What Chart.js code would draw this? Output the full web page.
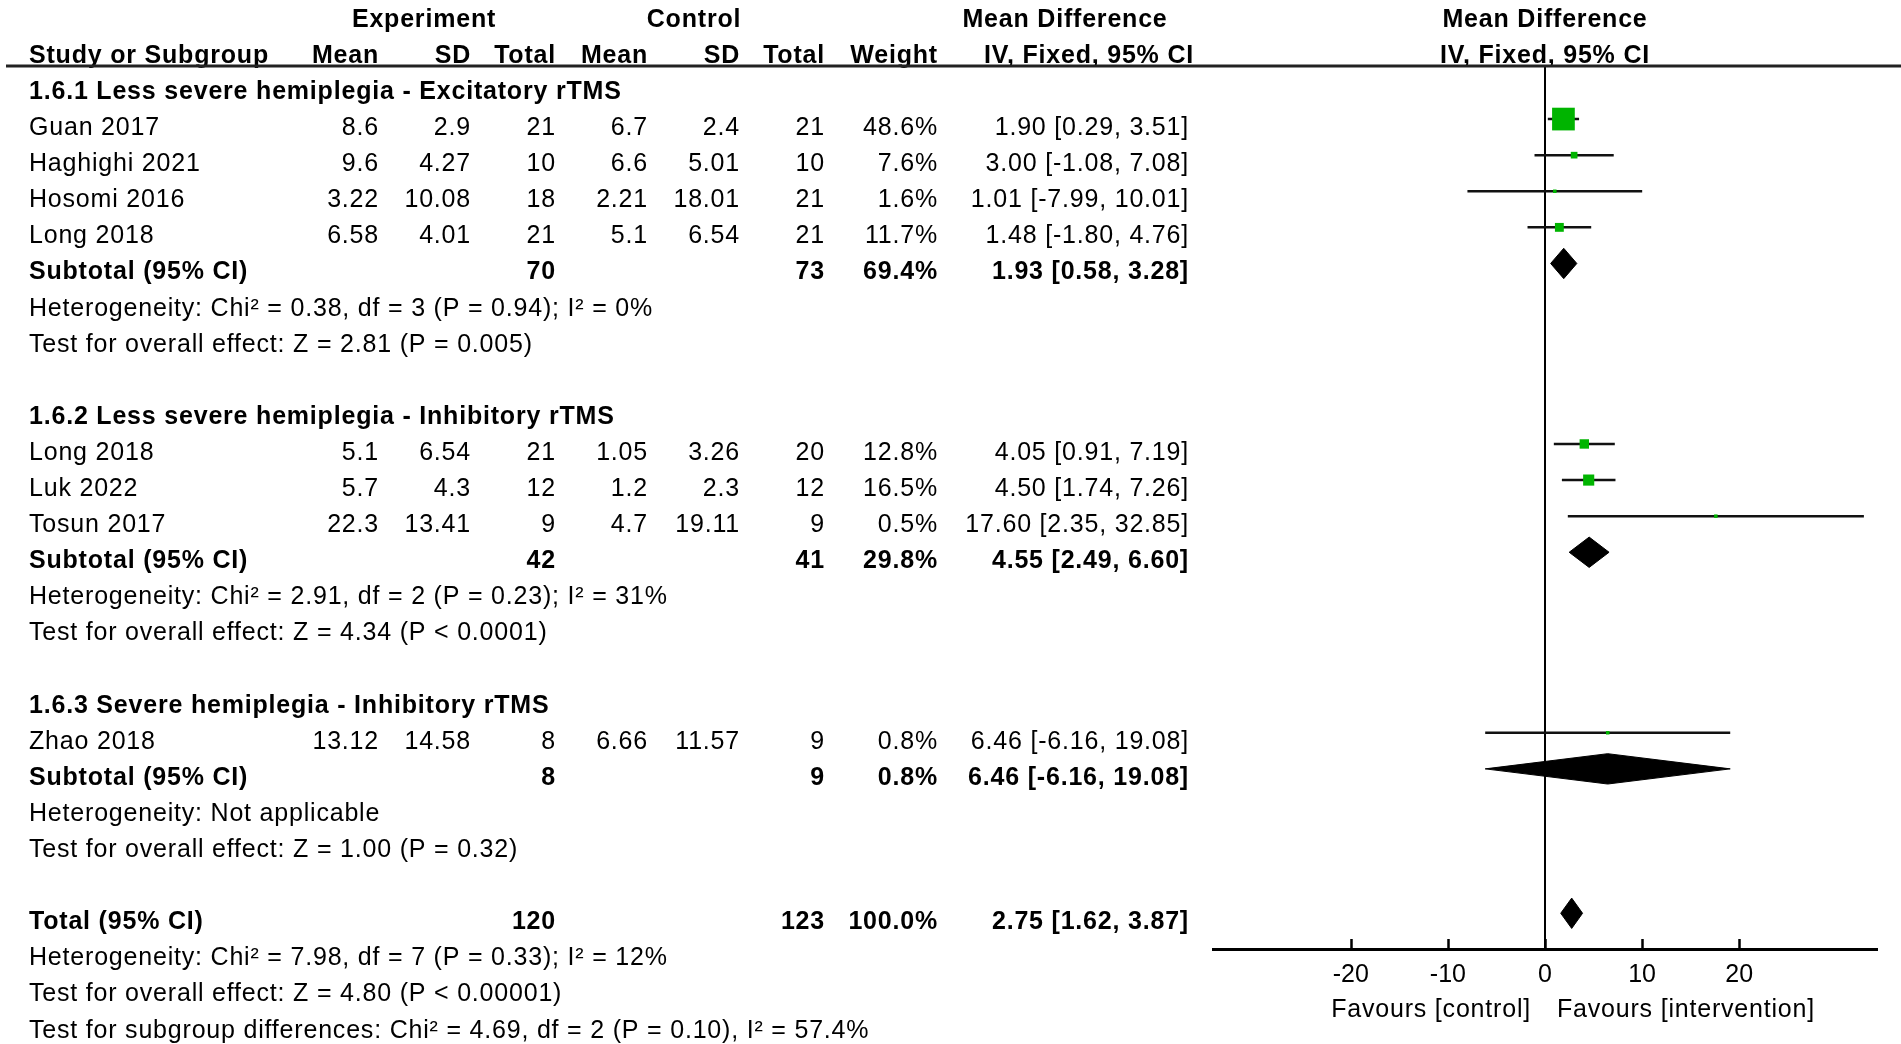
<!DOCTYPE html>
<html>
<head>
<meta charset="utf-8">
<title>Forest plot - rTMS subgroups</title>
<script src="https://cdn.jsdelivr.net/npm/chart.js@4.4.1/dist/chart.umd.min.js"></script>
<style>
  html, body { margin: 0; padding: 0; background: #fff; }
  canvas { display: block; }
</style>
</head>
<body>
<canvas id="forest" width="1901" height="1044" style="width:1901px;height:1044px"></canvas>
<script>
// Study data
const groupTitles = [
    '1.6.1 Less severe hemiplegia - Excitatory rTMS',
    '1.6.2 Less severe hemiplegia - Inhibitory rTMS',
    '1.6.3 Severe hemiplegia - Inhibitory rTMS'
];
const studyNames = ['Guan 2017', 'Haghighi 2021', 'Hosomi 2016', 'Long 2018', 'Long 2018', 'Luk 2022', 'Tosun 2017', 'Zhao 2018'];
const studyGroup = [0, 0, 0, 0, 1, 1, 1, 2];
const expMean  = [8.6, 9.6, 3.22, 6.58, 5.1, 5.7, 22.3, 13.12];
const expSD    = [2.9, 4.27, 10.08, 4.01, 6.54, 4.3, 13.41, 14.58];
const expTotal = [21, 10, 18, 21, 21, 12, 9, 8];
const ctlMean  = [6.7, 6.6, 2.21, 5.1, 1.05, 1.2, 4.7, 6.66];
const ctlSD    = [2.4, 5.01, 18.01, 6.54, 3.26, 2.3, 19.11, 11.57];
const ctlTotal = [21, 10, 21, 21, 20, 12, 9, 9];
const weights  = [48.6, 7.6, 1.6, 11.7, 12.8, 16.5, 0.5, 0.8];
const md       = [1.90, 3.00, 1.01, 1.48, 4.05, 4.50, 17.60, 6.46];
const ciLow    = [0.29, -1.08, -7.99, -1.80, 0.91, 1.74, 2.35, -6.16];
const ciHigh   = [3.51, 7.08, 10.01, 4.76, 7.19, 7.26, 32.85, 19.08];

// Subgroup summaries
const subExpTotal = [70, 42, 8];
const subCtlTotal = [73, 41, 9];
const subWeight   = [69.4, 29.8, 0.8];
const subMd       = [1.93, 4.55, 6.46];
const subLow      = [0.58, 2.49, -6.16];
const subHigh     = [3.28, 6.60, 19.08];
const subHet = [
    'Heterogeneity: Chi² = 0.38, df = 3 (P = 0.94); I² = 0%',
    'Heterogeneity: Chi² = 2.91, df = 2 (P = 0.23); I² = 31%',
    'Heterogeneity: Not applicable'
];
const subTest = [
    'Test for overall effect: Z = 2.81 (P = 0.005)',
    'Test for overall effect: Z = 4.34 (P < 0.0001)',
    'Test for overall effect: Z = 1.00 (P = 0.32)'
];

// Overall
const totalExp = 120;
const totalCtl = 123;
const totalWeight = 100.0;
const totalMd = 2.75;
const totalLow = 1.62;
const totalHigh = 3.87;
const totalNotes = [
    'Heterogeneity: Chi² = 7.98, df = 7 (P = 0.33); I² = 12%',
    'Test for overall effect: Z = 4.80 (P < 0.00001)',
    'Test for subgroup differences: Chi² = 4.69, df = 2 (P = 0.10), I² = 57.4%'
];

const xTicks = [-20, -10, 0, 10, 20];
const axisLabels = ['Favours [control]', 'Favours [intervention]'];

// Build the row layout (one row per line of the table)
const rows = [];
let r = 0;
groupTitles.forEach((title, g) => {
    rows.push({ type: 'title', text: title, r: r++ });
    studyNames.forEach((n, i) => {
        if (studyGroup[i] === g) rows.push({ type: 'study', i: i, r: r++ });
    });
    rows.push({ type: 'subtotal', g: g, r: r++ });
    rows.push({ type: 'note', text: subHet[g], r: r++ });
    rows.push({ type: 'note', text: subTest[g], r: r++ });
    r++; // blank line
});
rows.push({ type: 'total', r: r++ });
totalNotes.forEach(t => rows.push({ type: 'note', text: t, r: r++ }));

const studyRow = [];
const subRow = [];
let totalRow = 0;
rows.forEach(row => {
    if (row.type === 'study') studyRow[row.i] = row.r;
    if (row.type === 'subtotal') subRow[row.g] = row.r;
    if (row.type === 'total') totalRow = row.r;
});

const FONT = "'Liberation Sans', Arial, sans-serif";
const GREEN = '#00b400';
const fmt2 = v => v.toFixed(2);
const ciText = (e, lo, hi) => fmt2(e) + ' [' + fmt2(lo) + ', ' + fmt2(hi) + ']';

// Datasets
const datasets = [];

// squares for each study
datasets.push({
    label: 'studies',
    data: md.map((v, i) => ({ x: v, y: studyRow[i] })),
    pointStyle: 'rect',
    pointRadius: ctx => {
        const w = weights[ctx.dataIndex];
        const side = Math.max(3.5, 1.75 * Math.pow(w, 0.66));
        return side / Math.SQRT2;
    },
    backgroundColor: GREEN,
    borderWidth: 0,
    showLine: false,
    order: 0
});

// confidence interval lines
md.forEach((v, i) => {
    datasets.push({
        label: 'ci' + i,
        data: [{ x: ciLow[i], y: studyRow[i] }, { x: ciHigh[i], y: studyRow[i] }],
        showLine: true,
        borderColor: '#111',
        borderWidth: 2.5,
        pointRadius: 0,
        order: 1
    });
});

// summary diamonds
function diamond(est, lo, hi, row) {
    const h = 0.42;
    return [
        { x: lo, y: row }, { x: est, y: row - h }, { x: hi, y: row },
        { x: est, y: row + h }, { x: lo, y: row }
    ];
}
const summaries = subMd.map((v, g) => diamond(v, subLow[g], subHigh[g], subRow[g]));
summaries.push(diamond(totalMd, totalLow, totalHigh, totalRow));
summaries.forEach((pts, k) => {
    datasets.push({
        label: 'diamond' + k,
        data: pts,
        showLine: true,
        fill: 'shape',
        backgroundColor: '#000',
        borderColor: '#000',
        borderWidth: 1,
        pointRadius: 0,
        order: 0
    });
});

// Table text, header rule and axis furniture
const tablePlugin = {
    id: 'forestTable',
    afterDraw(chart) {
        const ctx = chart.ctx;
        const ys = chart.scales.y;
        const xs = chart.scales.x;
        const area = chart.chartArea;
        const base = row => ys.getPixelForValue(row) + 16;

        function txt(s, x, row, align, bold) {
            ctx.font = (bold ? 'bold ' : '') + '25px ' + FONT;
            ctx.textAlign = align;
            ctx.fillText(s, x, base(row));
        }

        ctx.save();
        ctx.fillStyle = '#000';
        ctx.textBaseline = 'alphabetic';
        if ('letterSpacing' in ctx) ctx.letterSpacing = '0.8px';

        // column headers
        txt('Experiment', 424, -2, 'center', true);
        txt('Control', 694, -2, 'center', true);
        txt('Mean Difference', 1065, -2, 'center', true);
        txt('Mean Difference', xs.getPixelForValue(0), -2, 'center', true);
        txt('Study or Subgroup', 29, -1, 'left', true);
        txt('Mean', 379, -1, 'right', true);
        txt('SD', 471, -1, 'right', true);
        txt('Total', 556, -1, 'right', true);
        txt('Mean', 648, -1, 'right', true);
        txt('SD', 740, -1, 'right', true);
        txt('Total', 825, -1, 'right', true);
        txt('Weight', 938, -1, 'right', true);
        txt('IV, Fixed, 95% CI', 1089, -1, 'center', true);
        txt('IV, Fixed, 95% CI', xs.getPixelForValue(0), -1, 'center', true);

        rows.forEach(row => {
            if (row.type === 'title') {
                txt(row.text, 29, row.r, 'left', true);
            } else if (row.type === 'note') {
                txt(row.text, 29, row.r, 'left', false);
            } else if (row.type === 'study') {
                const i = row.i;
                txt(studyNames[i], 29, row.r, 'left', false);
                txt(String(expMean[i]), 379, row.r, 'right', false);
                txt(String(expSD[i]), 471, row.r, 'right', false);
                txt(String(expTotal[i]), 556, row.r, 'right', false);
                txt(String(ctlMean[i]), 648, row.r, 'right', false);
                txt(String(ctlSD[i]), 740, row.r, 'right', false);
                txt(String(ctlTotal[i]), 825, row.r, 'right', false);
                txt(weights[i].toFixed(1) + '%', 938, row.r, 'right', false);
                txt(ciText(md[i], ciLow[i], ciHigh[i]), 1189, row.r, 'right', false);
            } else if (row.type === 'subtotal') {
                const g = row.g;
                txt('Subtotal (95% CI)', 29, row.r, 'left', true);
                txt(String(subExpTotal[g]), 556, row.r, 'right', true);
                txt(String(subCtlTotal[g]), 825, row.r, 'right', true);
                txt(subWeight[g].toFixed(1) + '%', 938, row.r, 'right', true);
                txt(ciText(subMd[g], subLow[g], subHigh[g]), 1189, row.r, 'right', true);
            } else if (row.type === 'total') {
                txt('Total (95% CI)', 29, row.r, 'left', true);
                txt(String(totalExp), 556, row.r, 'right', true);
                txt(String(totalCtl), 825, row.r, 'right', true);
                txt(totalWeight.toFixed(1) + '%', 938, row.r, 'right', true);
                txt(ciText(totalMd, totalLow, totalHigh), 1189, row.r, 'right', true);
            }
        });

        // header rule
        ctx.strokeStyle = '#222';
        ctx.lineWidth = 3;
        ctx.beginPath();
        ctx.moveTo(6, area.top);
        ctx.lineTo(chart.width, area.top);
        ctx.stroke();

        // tick marks pointing up from the axis
        ctx.lineWidth = 2.5;
        ctx.strokeStyle = '#000';
        xTicks.forEach(v => {
            const px = Math.round(xs.getPixelForValue(v)) + 0.5;
            ctx.beginPath();
            ctx.moveTo(px, area.bottom - 10);
            ctx.lineTo(px, area.bottom);
            ctx.stroke();
        });

        // favours labels
        ctx.font = '25px ' + FONT;
        const zero = xs.getPixelForValue(0);
        ctx.textAlign = 'right';
        ctx.fillText(axisLabels[0], zero - 14, 1017);
        ctx.textAlign = 'left';
        ctx.fillText(axisLabels[1], zero + 12, 1017);
        ctx.restore();
    }
};

Chart.defaults.font.family = FONT;

new Chart(document.getElementById('forest').getContext('2d'), {
    type: 'scatter',
    data: { datasets: datasets },
    options: {
        responsive: false,
        animation: false,
        devicePixelRatio: 1,
        layout: { padding: { left: 1213, right: 24, top: 66, bottom: 0 } },
        plugins: {
            legend: { display: false },
            tooltip: { enabled: false }
        },
        scales: {
            x: {
                type: 'linear',
                position: 'bottom',
                min: -34.2,
                max: 34.2,
                afterBuildTicks: scale => {
                    scale.ticks = xTicks.map(v => ({ value: v }));
                },
                afterFit: scale => {
                    scale.height = 95;
                },
                grid: {
                    drawTicks: false,
                    lineWidth: 2,
                    color: c => (c.tick && c.tick.value === 0 ? '#000' : 'rgba(0,0,0,0)')
                },
                border: { display: true, color: '#000', width: 3 },
                ticks: {
                    color: '#000',
                    padding: 11,
                    autoSkip: false,
                    maxRotation: 0,
                    font: { family: FONT, size: 25 }
                }
            },
            y: {
                type: 'linear',
                display: false,
                reverse: true,
                min: -0.47,
                max: 23.99
            }
        }
    },
    plugins: [tablePlugin]
});
</script>
</body>
</html>
